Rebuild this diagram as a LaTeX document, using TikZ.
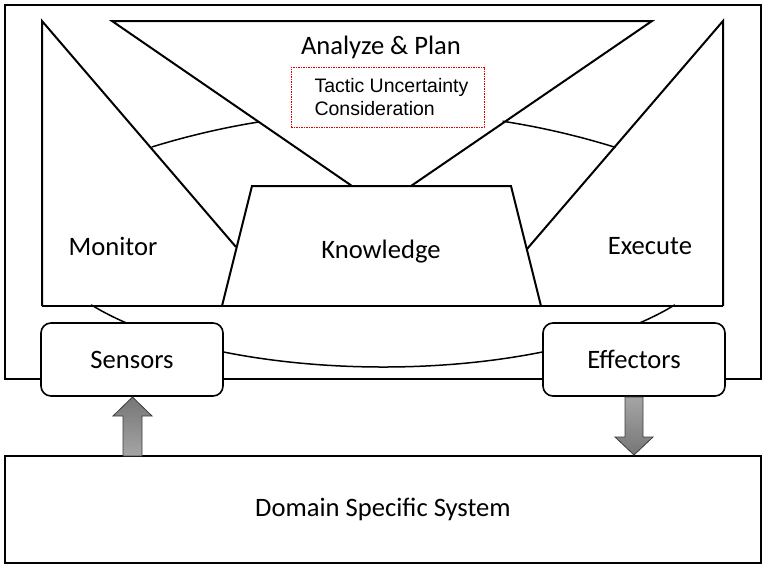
\documentclass[tikz,border=0pt]{standalone}
\usepackage{fontspec}
\setmainfont{Carlito}
\newfontfamily\arialfont{Liberation Sans}
\usetikzlibrary{positioning}
\definecolor{arrowdark}{RGB}{118,118,118}
\definecolor{arrowlight}{RGB}{165,165,165}
\definecolor{arrowedge}{RGB}{60,60,60}
\definecolor{notered}{RGB}{235,0,0}
\begin{document}
\begin{tikzpicture}[x=1pt,y=-1pt,line width=2pt,line join=miter,
    lbl/.style={font=\fontsize{26.6}{31}\selectfont},
    ctrlbox/.style={draw,fill=white,rounded corners=10pt,line width=1.6pt,
      minimum width=182pt,minimum height=73pt,lbl},
    loopline/.style={line width=1.5pt},
    fatarrow/.style={draw=arrowedge,line width=0.8pt}]

    \useasboundingbox (0,0) rectangle (772,570);

    % Managing system frame
    \draw (5,5) rectangle (761,379);

    % Monitor and Execute wings
    \draw (42,306) -- (42,21) -- (236,247);
    \draw (723,306) -- (723,21) -- (527,249);
    \draw (42,306) -- (723,306);

    % Analyze & Plan funnel
    \draw (352,186) -- (112,21) -- (652,21) -- (411,186);

    % Knowledge base
    \draw (222,306) -- (252,186) -- (511,186) -- (541,306);

    % Loop arcs (top)
    \draw[loopline] (383,894) ++(252.8:782) arc[start angle=252.8,end angle=260.9,radius=782];
    \draw[loopline] (383,894) ++(278.8:782) arc[start angle=278.8,end angle=287.3,radius=782];

    % Loop arc (bottom, behind sensors and effectors)
    \draw[loopline] (383,236) ++(148.3:343 and 131)
      arc[start angle=148.3,end angle=31.7,x radius=343,y radius=131];

    % Phase labels
    \node[lbl] (analyze) at (381,47) {Analyze \& Plan};
    \node[lbl] (monitor) at (113,246) {Monitor};
    \node[lbl] (knowledge) at (381,252) {Knowledge};
    \node[lbl] (execute) at (650,246) {Execute};

    % Tactic uncertainty note
    \node[draw=notered,line width=1pt,dash pattern=on 1.5pt off 1pt,
      minimum width=193pt,minimum height=60pt] (tacticbox) at (387.5,97) {};
    \node[anchor=west,align=left,inner sep=0pt,
      font=\arialfont\fontsize{19.5}{22.5}\selectfont]
      (tactic) at ([xshift=23pt]tacticbox.west) {Tactic Uncertainty\\Consideration};

    % Sensors and effectors
    \node[ctrlbox] (sensors) at (132,359.5) {Sensors};
    \node[ctrlbox] (effectors) at (634,359.5) {Effectors};

    % Managed system
    \node[draw,minimum width=756pt,minimum height=107pt,lbl] (domain) at (383,509.5) {Domain Specific System};

    % Fat arrows
    \draw[fatarrow,top color=arrowdark,bottom color=arrowlight]
      (123,456) -- (123,416) -- (113,416) -- (132.5,397) -- (152,416) -- (142,416) -- (142,456) -- cycle;
    \draw[fatarrow,top color=arrowlight,bottom color=arrowdark]
      (625,397) -- (625,437) -- (615,437) -- (634,455) -- (653,437) -- (643,437) -- (643,397) -- cycle;
\end{tikzpicture}
\end{document}
